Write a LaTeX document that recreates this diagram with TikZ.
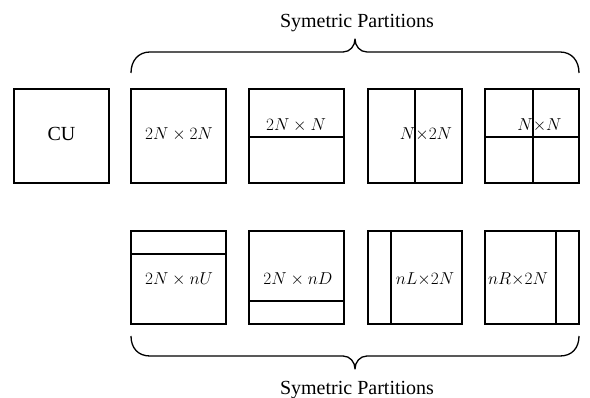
\documentclass[tikz,border=0pt]{standalone}
\usepackage{fontspec}
\setmainfont{Liberation Serif}
\begin{document}
\begin{tikzpicture}[x=1pt,y=-1pt,
  cell/.style={draw=black,line width=1.6pt},
  part/.style={draw=black,line width=1.6pt},
  lbl/.style={inner sep=0pt,font=\fontsize{18}{21}\selectfont},
  ttl/.style={inner sep=0pt,anchor=base,font=\fontsize{20}{24}\selectfont},
  brc/.style={draw=black,line width=1.3pt,line join=round}]
\useasboundingbox (0,0) rectangle (590,398);
% row 1
\draw[cell] (14,89) rectangle (109,183);
\node[ttl] (cu) at (61.5,140.5) {CU};
\draw[cell] (131,89) rectangle (226,183);
\node[lbl] (a1) at (179,134) {$2N\times 2N$};
\draw[cell] (249,89) rectangle (344,183);
\draw[part] (249,137) -- (344,137);
\node[lbl] (a2) at (296,125) {$2N\times N$};
\draw[cell] (368,89) rectangle (462,183);
\draw[part] (415,89) -- (415,183);
\node[lbl] (a3) at (426,134) {$N{\times}2N$};
\draw[cell] (485,89) rectangle (579,183);
\draw[part] (533,89) -- (533,183);
\draw[part] (485,137) -- (579,137);
\node[lbl] (a4) at (539.5,125) {$N{\times}N$};
% row 2
\draw[cell] (131,231) rectangle (226,324);
\draw[part] (131,254) -- (226,254);
\node[lbl] (b1) at (179,279) {$2N\times nU$};
\draw[cell] (249,231) rectangle (344,324);
\draw[part] (249,301) -- (344,301);
\node[lbl] (b2) at (298,279) {$2N\times nD$};
\draw[cell] (368,231) rectangle (462,324);
\draw[part] (391,231) -- (391,324);
\node[lbl] (b3) at (425,279) {$nL{\times}2N$};
\draw[cell] (485,231) rectangle (579,324);
\draw[part] (556,231) -- (556,324);
\node[lbl] (b4) at (518,279) {$nR{\times}2N$};
% top brace
\draw[brc] (131,73) .. controls (131,61) and (138,52) .. (150,52)
  -- (343,52) .. controls (350,52) and (355,46) .. (355,39)
  .. controls (355,46) and (360,52) .. (367,52)
  -- (560,52) .. controls (572,52) and (579,61) .. (579,73);
\node[ttl] (t1) at (357,28) {Symetric Partitions};
% bottom brace
\draw[brc] (131,336) .. controls (131,348) and (138,356) .. (150,356)
  -- (343,356) .. controls (350,356) and (355,362) .. (355,369)
  .. controls (355,362) and (360,356) .. (367,356)
  -- (560,356) .. controls (572,356) and (579,348) .. (579,336);
\node[ttl] (t2) at (357,395) {Symetric Partitions};
\end{tikzpicture}
\end{document}
